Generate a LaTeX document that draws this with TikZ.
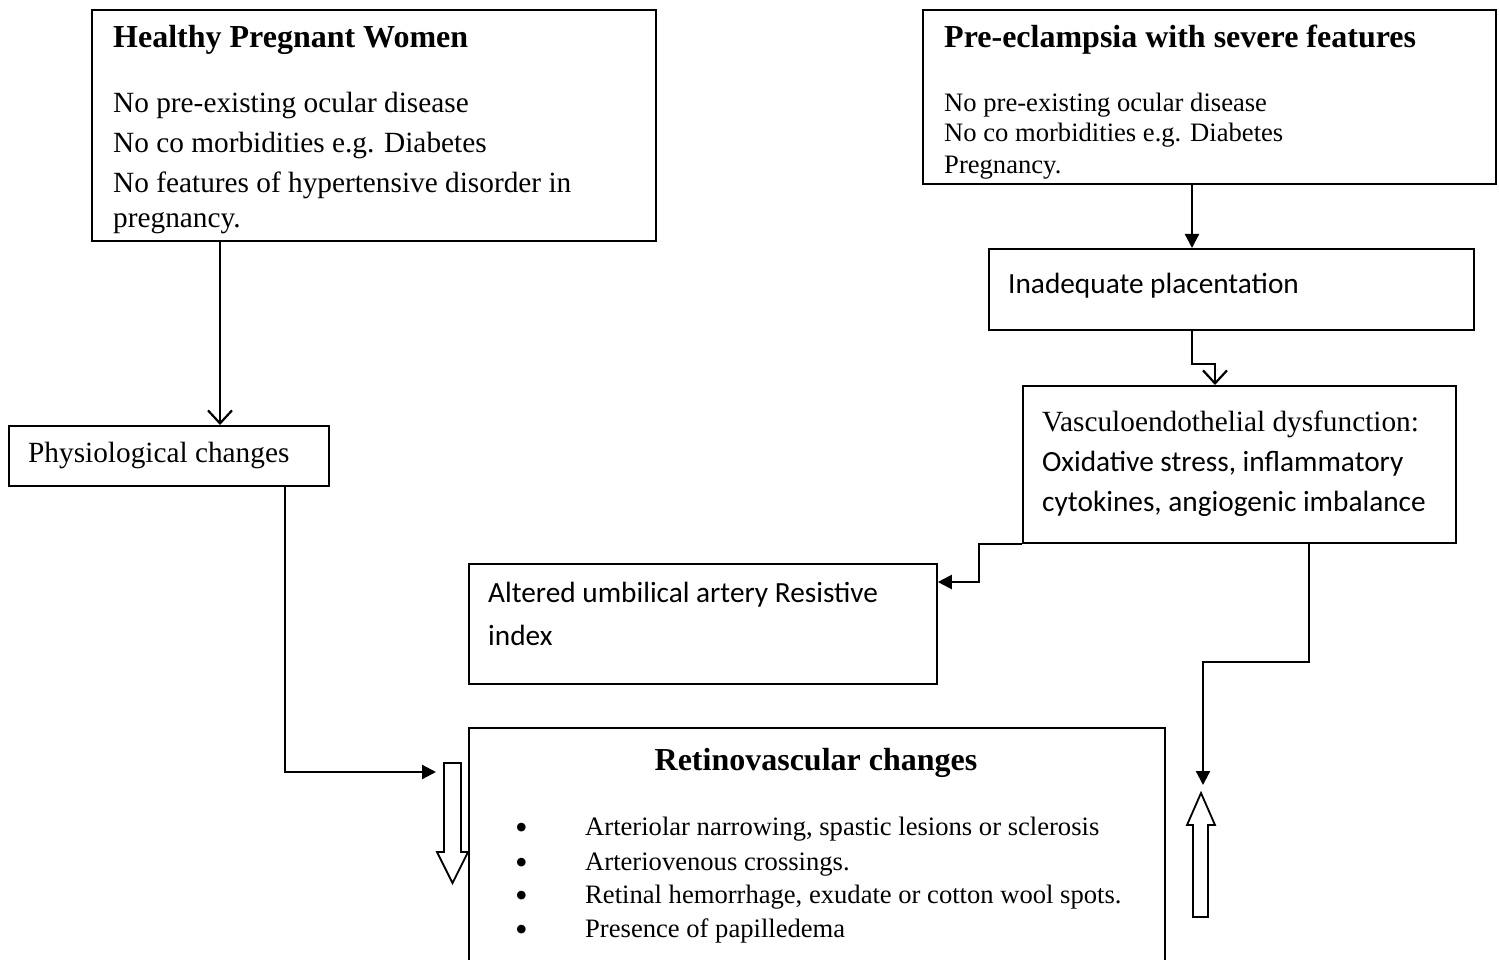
\documentclass[tikz,border=0pt]{standalone}
\usepackage{fontspec}
\setmainfont{Liberation Serif}
\newfontfamily\calibri{Carlito}
\usetikzlibrary{arrows.meta}

\tikzset{
	box/.style={draw, line width=1.8pt, anchor=north west, inner sep=0pt},
	txt/.style={anchor=base west, inner sep=0pt},
	conn/.style={line width=2.2pt},
	tri/.style={conn, -{Triangle[length=14pt,width=14pt]}},
	vee/.style={conn, -{Straight Barb[length=13pt,width=24pt]}},
	blk/.style={draw, line width=1.8pt, fill=white},
}
\newcommand{\headfont}{\fontsize{32}{38}\selectfont\bfseries}
\newcommand{\bodyfont}{\fontsize{29.3}{40}\selectfont}
\newcommand{\smallbody}{\fontsize{26.6}{31}\selectfont}

\begin{document}
\begin{tikzpicture}[x=1pt, y=-1pt]
			\useasboundingbox (0,0) rectangle (1499,960);
			% boxes
			\node[box, minimum width=564pt, minimum height=231pt] (healthy) at (91,9) {};
			\node[box, minimum width=573pt, minimum height=174pt] (preec) at (922,9) {};
			\node[box, minimum width=485pt, minimum height=81pt] (inadeq) at (988,248) {};
			\node[box, minimum width=433pt, minimum height=157pt] (vasculo) at (1022,385) {};
			\node[box, minimum width=320pt, minimum height=60pt] (physio) at (8,425) {};
			\node[box, minimum width=468pt, minimum height=120pt] (altered) at (468,563) {};
			\node[box, minimum width=696pt, minimum height=236pt] (retino) at (468,727) {};
			% texts
			\begin{scope}
				\clip (healthy.north west) rectangle (healthy.south east);
				\node[txt] (healthyhd) at (113,48) {\headfont Healthy Pregnant Women};
				\node[txt] (healthya) at (113,113) {\bodyfont No pre-existing ocular disease};
				\node[txt] (healthyb) at (113,153) {\bodyfont No co morbidities e.g. Diabetes};
				\node[txt] (healthyc) at (113,193) {\bodyfont No features of hypertensive disorder in};
				\node[txt] (healthyd) at (113,227) {\bodyfont pregnancy.};
			\end{scope}
			\begin{scope}
				\clip (preec.north west) rectangle (preec.south east);
				\node[txt] (preechd) at (944,48) {\headfont Pre-eclampsia with severe features};
				\node[txt] (preeca) at (944,112) {\smallbody No pre-existing ocular disease};
				\node[txt] (preecb) at (944,142) {\smallbody No co morbidities e.g. Diabetes};
				\node[txt] (preecc) at (944,174) {\smallbody Pregnancy.};
			\end{scope}
			\node[txt] (inadeqt) at (1008,293) {\bodyfont\calibri Inadequate placentation};
			\node[txt] (vasculoa) at (1042,431) {\bodyfont Vasculoendothelial dysfunction:};
			\node[txt] (vasculob) at (1042,471) {\bodyfont\calibri Oxidative stress, inflammatory};
			\node[txt] (vasculoc) at (1042,511) {\bodyfont\calibri cytokines, angiogenic imbalance};
			\node[txt] (physiot) at (28,462) {\bodyfont Physiological changes};
			\node[txt] (altereda) at (488,602) {\bodyfont\calibri Altered umbilical artery Resistive};
			\node[txt] (alteredb) at (488,645) {\bodyfont\calibri index};
			\node[anchor=base, inner sep=0pt] (retinohd) at (816,770) {\headfont Retinovascular changes};
			\foreach \y/\t [count=\i] in {835/{Arteriolar narrowing, spastic lesions or sclerosis},
					870/{Arteriovenous crossings.},
					903/{Retinal hemorrhage, exudate or cotton wool spots.},
					937/{Presence of papilledema}} {
				\node[txt] (bul\i) at (515,\y+4) {\fontsize{36}{36}\selectfont\textbullet};
				\node[txt] (item\i) at (585,\y) {\smallbody\t};
			}
			% block arrows
			\draw[blk] (444,763) -- (461,763) -- (461,852) -- (468,852) -- (452.5,883) -- (437,852) -- (444,852) -- cycle;
			\draw[blk] (1193,917) -- (1208,917) -- (1208,825) -- (1215,825) -- (1201,793) -- (1187,825) -- (1193,825) -- cycle;
			\coordinate (physioin) at (436,772);
			\coordinate (upin) at (1203,785);
			% connectors
			\draw[vee] ([xshift=129pt]healthy.south west) -- ([xshift=129pt]healthy.south west |- physio.north);
			\draw[tri] ([xshift=277pt]physio.south west) |- (physioin);
			\draw[tri] ([xshift=270pt]preec.south west) -- ([xshift=270pt]preec.south west |- inadeq.north);
			\draw[vee] ([xshift=204pt]inadeq.south west) -- ++(0,33) -| ([xshift=193pt]vasculo.north west);
			\draw[tri] (vasculo.south west) -- ++(-43,0) |- ([yshift=-19pt]altered.north east);
			\draw[tri] ([xshift=287pt]vasculo.south west) -- ++(0,118) -| (upin);
		\end{tikzpicture}
\end{document}
